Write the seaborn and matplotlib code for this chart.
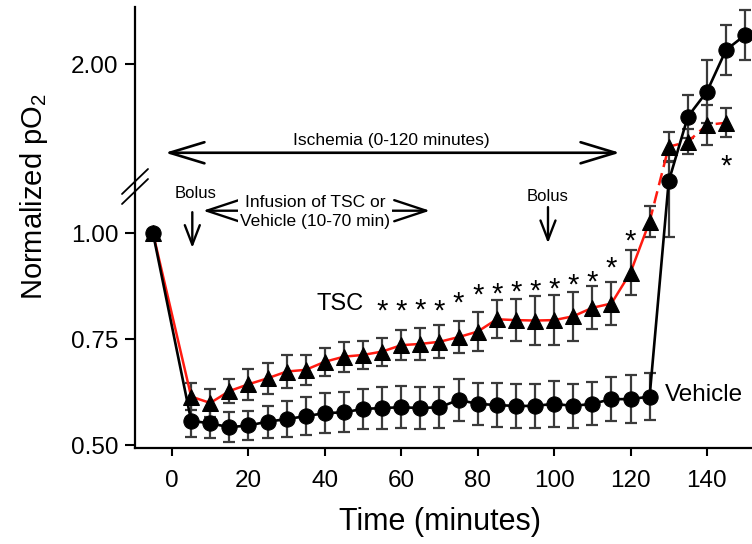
import numpy as np
import pandas as pd
import matplotlib
matplotlib.use("Agg")
import matplotlib.pyplot as plt
import seaborn as sns

# ---------------- data ----------------
time_vehicle = [-5, 5, 10, 15, 20, 25, 30, 35, 40, 45, 50, 55, 60, 65, 70, 75, 80,
                85, 90, 95, 100, 105, 110, 115, 120, 125, 130, 135, 140, 145, 150]
vehicle_mean = [1.00, 0.558, 0.552, 0.543, 0.547, 0.556, 0.562, 0.569, 0.576, 0.578,
                0.586, 0.588, 0.590, 0.588, 0.590, 0.607, 0.598, 0.595, 0.593, 0.593,
                0.598, 0.593, 0.598, 0.609, 0.609, 0.615, 1.27, 1.756, 1.872, 2.065, 2.134]
vehicle_sem = [0.0, 0.039, 0.035, 0.035, 0.034, 0.038, 0.042, 0.045, 0.047, 0.047,
               0.048, 0.050, 0.049, 0.050, 0.048, 0.049, 0.050, 0.052, 0.051, 0.052,
               0.054, 0.052, 0.051, 0.052, 0.056, 0.056, 0.28, 0.10, 0.147, 0.116, 0.116]

time_tsc = [-5, 5, 10, 15, 20, 25, 30, 35, 40, 45, 50, 55, 60, 65, 70, 75, 80,
            85, 90, 95, 100, 105, 110, 115, 120, 125, 130, 135, 140, 145]
tsc_mean = [1.00, 0.615, 0.600, 0.628, 0.644, 0.658, 0.674, 0.678, 0.697, 0.709,
            0.713, 0.721, 0.736, 0.739, 0.744, 0.755, 0.768, 0.797, 0.795, 0.794,
            0.795, 0.804, 0.824, 0.834, 0.907, 1.027, 1.617, 1.640, 1.718, 1.728]
tsc_sem = [0.0, 0.032, 0.033, 0.028, 0.036, 0.036, 0.039, 0.035, 0.033, 0.035,
           0.034, 0.033, 0.035, 0.038, 0.039, 0.037, 0.045, 0.045, 0.050, 0.057,
           0.058, 0.057, 0.051, 0.051, 0.052, 0.037, 0.069, 0.058, 0.093, 0.066]

star_times = [55, 60, 65, 70, 75, 80, 85, 90, 95, 100, 105, 110, 115, 120, 145]
star_levels = [0.835, 0.835, 0.837, 0.835, 0.852, 0.871, 0.874, 0.879, 0.880,
               0.885, 0.895, 0.902, 0.934, 0.998, 1.56]

x_ticks = [0, 20, 40, 60, 80, 100, 120, 140]
y_ticks = [0.50, 0.75, 1.00, 2.00]
y_tick_labels = ["0.50", "0.75", "1.00", "2.00"]

# ---------------- style ----------------
sns.set_theme(style="ticks")
plt.rcParams["font.family"] = ["Liberation Sans", "DejaVu Sans"]
plt.rcParams["mathtext.fontset"] = "custom"
plt.rcParams["mathtext.rm"] = "Liberation Sans"
plt.rcParams["axes.edgecolor"] = "black"
plt.rcParams["axes.linewidth"] = 1.6
plt.rcParams["text.color"] = "black"
plt.rcParams["axes.labelcolor"] = "black"
plt.rcParams["xtick.color"] = "black"
plt.rcParams["ytick.color"] = "black"

# broken y axis: lower part 0.494-1.106, compressed gap, upper part 1.50-2.264
seg_vals = [-10.0, 1.106, 1.50, 10.0]
seg_pos = [-4462.5, 257.55, 273.55, 2109.55]


def fwd(v):
    return np.interp(np.asarray(v, dtype=float), seg_vals, seg_pos)


def inv(p):
    return np.interp(np.asarray(p, dtype=float), seg_pos, seg_vals)


fig = plt.figure(figsize=(7.52, 5.44), dpi=100)
W, H = 752, 544
ax = fig.add_axes([135 / W, (H - 448) / H, (W - 135) / W, (448 - 7) / H])
ax.set_yscale("function", functions=(fwd, inv))

df_v = pd.DataFrame({"t": time_vehicle, "m": vehicle_mean, "s": vehicle_sem})
df_t = pd.DataFrame({"t": time_tsc, "m": tsc_mean, "s": tsc_sem})

ebc = "#3a3a3a"
ax.errorbar(df_v["t"][1:], df_v["m"][1:], yerr=df_v["s"][1:], fmt="none",
            ecolor=ebc, elinewidth=1.6, capsize=4.5, capthick=1.6, zorder=2)
ax.errorbar(df_t["t"][1:], df_t["m"][1:], yerr=df_t["s"][1:], fmt="none",
            ecolor=ebc, elinewidth=1.6, capsize=4.5, capthick=1.6, zorder=2)

# TSC: solid red line up to 125 min, dashed red afterwards
solid = df_t[df_t["t"] <= 125]
dashed = df_t[df_t["t"] >= 125]
sns.lineplot(data=solid, x="t", y="m", ax=ax, color="#ff1a10", lw=1.8,
             sort=False, estimator=None, zorder=3)
sns.lineplot(data=dashed, x="t", y="m", ax=ax, color="#ff1a10", lw=1.8,
             sort=False, estimator=None, zorder=3, linestyle=(0, (5, 2.5)))

# Vehicle: black line with circles
sns.lineplot(data=df_v, x="t", y="m", ax=ax, color="black", lw=1.9,
             sort=False, estimator=None, marker="o", markersize=11,
             markeredgecolor="black", markerfacecolor="black", zorder=4)
# TSC triangles
sns.lineplot(data=df_t, x="t", y="m", ax=ax, color="black", lw=0,
             sort=False, estimator=None, marker="^", markersize=11.5,
             markeredgecolor="black", markerfacecolor="black", zorder=5)

ax.set_xlim(-9.7, 151.8)
ax.set_ylim(0.494, 2.264)
ax.set_xticks(x_ticks)
ax.set_yticks(y_ticks)
ax.set_yticklabels(y_tick_labels)
ax.yaxis.set_minor_locator(matplotlib.ticker.NullLocator())
ax.tick_params(axis="both", direction="out", width=1.5, colors="black",
               labelsize=17.5)
ax.tick_params(axis="x", length=6, pad=10)
ax.tick_params(axis="y", length=7, pad=5)
sns.despine(ax=ax)

ax.set_xlabel("Time (minutes)", fontsize=22)
ax.set_ylabel("Normalized pO$_\\mathregular{2}$", fontsize=21)
ax.xaxis.set_label_coords((440 - 135) / 617, (448 - 507) / 441)
ax.yaxis.set_label_coords((50 - 135) / 617, (448 - 197) / 441)

# y-axis break marks
for dy in (0, 10):
    ax.plot([(122 - 135) / 617, (148 - 135) / 617],
            [(448 - (194 + dy)) / 441, (448 - (169 + dy)) / 441],
            transform=ax.transAxes, color="black", lw=1.3, clip_on=False, zorder=6)

# asterisks
for t, lvl in zip(star_times, star_levels):
    ax.annotate("*", xy=(t, lvl), xytext=(0, -11.5), textcoords="offset points",
                ha="center", va="baseline", fontsize=21, color="black")

# series labels
ax.text(44.0, 0.833, "TSC", ha="center", va="center", fontsize=17)
ax.text(129.0, 0.619, "Vehicle", ha="left", va="center", fontsize=17.5)

# Ischemia arrow
ax.annotate("", xy=(117.2, 1.589), xytext=(-1.8, 1.589),
            arrowprops=dict(arrowstyle="<->,head_length=1.25,head_width=0.38",
                            lw=1.9, color="black", shrinkA=0, shrinkB=0,
                            mutation_scale=20))
ax.text(57.4, 1.648, "Ischemia (0-120 minutes)", ha="center", va="center",
        fontsize=12.5)

# Infusion arrow
ax.annotate("", xy=(67.5, 1.0525), xytext=(8.1, 1.0525),
            arrowprops=dict(arrowstyle="<->,head_length=1.15,head_width=0.38",
                            lw=1.7, color="black", shrinkA=0, shrinkB=0,
                            mutation_scale=20))
ax.text(37.4, 1.049, "Infusion of TSC or\nVehicle (10-70 min)", ha="center",
        va="center", fontsize=12.5, linespacing=1.35,
        bbox=dict(facecolor="white", edgecolor="none", pad=1.5))

# Bolus arrows
for bt, tx, ty, y0, y1 in [(5.3, 6.2, 1.092, 1.049, 0.965),
                           (98.4, 98.4, 1.087, 1.061, 0.976)]:
    ax.annotate("", xy=(bt, y1), xytext=(bt, y0),
                arrowprops=dict(arrowstyle="->,head_length=0.7,head_width=0.27",
                                lw=1.7, color="black", shrinkA=0, shrinkB=0,
                                mutation_scale=20))
    ax.text(tx, ty, "Bolus", ha="center", va="center", fontsize=12)

fig.savefig("out.png", dpi=100)
